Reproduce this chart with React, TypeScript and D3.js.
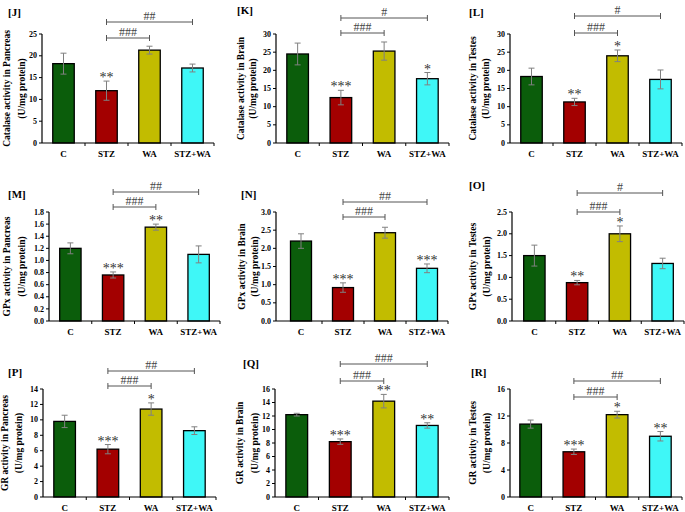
import React from 'react';
import * as d3 from 'd3';

// groups and bar colours
const categories = ['C', 'STZ', 'WA', 'STZ+WA'];
const barColors = ['#0b5d0b', '#a30000', '#c2bc00', '#3ff7f7'];

// panel letters
const panelIds = ['J', 'K', 'L', 'M', 'N', 'O', 'P', 'Q', 'R'];

// y axis titles (two lines each)
const yTitles = [
    'Catalase activity in Pancreas',
    'Catalase activity in Brain',
    'Catalase activity in Testes',
    'GPx activity in Pancreas',
    'GPx activity in Brain',
    'GPx activity in Testes',
    'GR activity in Pancreas',
    'GR activity in Brain',
    'GR activity in Testes',
];
const yUnit = '(U/mg protein)';

// mean values per panel (C, STZ, WA, STZ+WA)
const meanJ = [18.2, 12.0, 21.3, 17.2];
const meanK = [24.5, 12.5, 25.3, 17.7];
const meanL = [18.3, 11.3, 24.0, 17.5];
const meanM = [1.2, 0.76, 1.55, 1.1];
const meanN = [2.2, 0.92, 2.43, 1.45];
const meanO = [1.5, 0.88, 2.0, 1.32];
const meanP = [9.8, 6.2, 11.4, 8.6];
const meanQ = [12.2, 8.2, 14.2, 10.6];
const meanR = [10.8, 6.7, 12.2, 9.0];

// error (SEM) per panel
const errJ = [2.4, 2.2, 0.9, 0.9];
const errK = [3.0, 2.0, 2.5, 1.7];
const errL = [2.3, 1.0, 1.6, 2.6];
const errM = [0.09, 0.05, 0.05, 0.14];
const errN = [0.2, 0.13, 0.15, 0.12];
const errO = [0.24, 0.05, 0.18, 0.12];
const errP = [0.8, 0.6, 0.8, 0.5];
const errQ = [0.2, 0.4, 1.0, 0.4];
const errR = [0.6, 0.4, 0.5, 0.7];

// significance vs control
const starsJ = ['', '**', '', ''];
const starsK = ['', '***', '', '*'];
const starsL = ['', '**', '*', ''];
const starsM = ['', '***', '**', ''];
const starsN = ['', '***', '', '***'];
const starsO = ['', '**', '*', ''];
const starsP = ['', '***', '*', ''];
const starsQ = ['', '***', '**', '**'];
const starsR = ['', '***', '*', '**'];

// significance vs STZ: [STZ-WA, STZ-STZ+WA]
const hashJ = ['###', '##'];
const hashK = ['###', '#'];
const hashL = ['###', '#'];
const hashM = ['###', '##'];
const hashN = ['###', '##'];
const hashO = ['###', '#'];
const hashP = ['###', '##'];
const hashQ = ['###', '###'];
const hashR = ['###', '##'];

// y axis maximum and tick step
const yMax = [25, 30, 30, 1.8, 3.0, 2.5, 14, 16, 16];
const yStep = [5, 5, 5, 0.2, 0.5, 0.5, 2, 2, 4];
const yFormat = ['d', 'd', 'd', '.1f', '.1f', '.1f', 'd', 'd', 'd'];

const means = [meanJ, meanK, meanL, meanM, meanN, meanO, meanP, meanQ, meanR];
const errs = [errJ, errK, errL, errM, errN, errO, errP, errQ, errR];
const stars = [starsJ, starsK, starsL, starsM, starsN, starsO, starsP, starsQ, starsR];
const hashes = [hashJ, hashK, hashL, hashM, hashN, hashO, hashP, hashQ, hashR];

// pixel layout of each panel
interface Layout {
    ax: number; x0: number; x1: number; top: number; bottom: number;
    lx: number; ly: number; t1: number; t2: number; br: [number, number];
}
const layouts: Layout[] = [
    { ax: 42, x0: 42, x1: 214, top: 34, bottom: 143, lx: 8, ly: 16, t1: 7, t2: 22, br: [22, 38] },
    { ax: 276, x0: 276, x1: 449, top: 34, bottom: 143, lx: 237, ly: 14, t1: 241, t2: 253, br: [18, 33] },
    { ax: 510, x0: 510, x1: 682, top: 34, bottom: 143, lx: 469, ly: 16, t1: 473, t2: 486, br: [16, 33] },
    { ax: 49, x0: 49, x1: 220, top: 212, bottom: 321, lx: 8, ly: 198, t1: 7, t2: 22, br: [192, 207] },
    { ax: 276, x0: 280, x1: 448, top: 212, bottom: 321, lx: 241, ly: 198, t1: 242, t2: 255, br: [202, 217] },
    { ax: 512, x0: 513, x1: 684, top: 212, bottom: 321, lx: 469, ly: 189, t1: 473, t2: 487, br: [193, 212] },
    { ax: 43, x0: 43, x1: 216, top: 389, bottom: 497, lx: 8, ly: 376, t1: 5, t2: 19, br: [371, 386] },
    { ax: 275, x0: 275, x1: 449, top: 389, bottom: 497, lx: 243, ly: 367, t1: 240, t2: 255, br: [364, 381] },
    { ax: 510, x0: 509, x1: 682, top: 389, bottom: 497, lx: 471, ly: 376, t1: 473, t2: 487, br: [381, 397] },
];

const FONT = '"Liberation Serif", "Times New Roman", serif';

const Panel: React.FC<{ i: number }> = ({ i }) => {
    const L = layouts[i];
    const x = d3.scaleBand<string>().domain(categories).range([L.x0, L.x1]).paddingInner(0.5).paddingOuter(0.25);
    const y = d3.scaleLinear().domain([0, yMax[i]]).range([L.bottom, L.top]);
    const ticks = d3.range(0, yMax[i] + yStep[i] / 2, yStep[i]);
    const fmt = d3.format(yFormat[i]);
    const step = x.step();
    const bw = x.bandwidth();
    const cx = (c: string) => (x(c) ?? 0) + bw / 2;
    const midY = (L.top + L.bottom) / 2;
    const boundaries = categories.map((c) => (x(c) ?? 0) + bw / 2 + step / 2);

    const bracket = (to: string, yy: number, label: string) => {
        const a = cx('STZ');
        const b = cx(to);
        return (
            <g key={to}>
                <line x1={a} x2={b} y1={yy} y2={yy} stroke="#555" strokeWidth={1} />
                <line x1={a} x2={a} y1={yy - 3} y2={yy + 3} stroke="#555" strokeWidth={1} />
                <line x1={b} x2={b} y1={yy - 3} y2={yy + 3} stroke="#555" strokeWidth={1} />
                <text x={(a + b) / 2} y={yy - 2} textAnchor="middle" fontSize={12} fill="#444">{label}</text>
            </g>
        );
    };

    return (
        <g fontFamily={FONT}>
            <text x={L.lx} y={L.ly} fontSize={11} fontWeight="bold">[{panelIds[i]}]</text>
            <text transform={`translate(${L.t1},${midY}) rotate(-90)`} textAnchor="middle" dominantBaseline="central"
                fontSize={9.5} fontWeight="bold">{yTitles[i]}</text>
            <text transform={`translate(${L.t2},${midY}) rotate(-90)`} textAnchor="middle" dominantBaseline="central"
                fontSize={9.5} fontWeight="bold">{yUnit}</text>

            {/* y axis */}
            <line x1={L.ax} x2={L.ax} y1={L.top} y2={L.bottom} stroke="#000" strokeWidth={1.2} />
            {ticks.map((t) => (
                <g key={t}>
                    <line x1={L.ax - 3} x2={L.ax} y1={y(t)} y2={y(t)} stroke="#000" strokeWidth={1} />
                    <text x={L.ax - 5} y={y(t)} dy="0.33em" textAnchor="end" fontSize={8} fontWeight="bold">{fmt(t)}</text>
                </g>
            ))}

            {/* bars */}
            {categories.map((c, k) => (
                <rect key={c} x={x(c)} y={y(means[i][k])} width={bw} height={L.bottom - y(means[i][k])}
                    fill={barColors[k]} stroke="#000" strokeWidth={1.3} />
            ))}

            {/* x axis */}
            <line x1={L.ax} x2={L.x1} y1={L.bottom} y2={L.bottom} stroke="#000" strokeWidth={1.2} />
            {boundaries.map((bx, k) => (
                <line key={k} x1={bx} x2={bx} y1={L.bottom} y2={L.bottom + 3} stroke="#000" strokeWidth={1} />
            ))}
            {categories.map((c) => (
                <text key={c} x={cx(c)} y={L.bottom + 14} textAnchor="middle" fontSize={9} fontWeight="bold">{c}</text>
            ))}

            {/* error bars */}
            {categories.map((c, k) => {
                const m = means[i][k];
                const e = errs[i][k];
                const xc = cx(c);
                return (
                    <g key={c} stroke="#808080" strokeWidth={1}>
                        <line x1={xc} x2={xc} y1={y(m - e)} y2={y(m + e)} />
                        <line x1={xc - 3} x2={xc + 3} y1={y(m - e)} y2={y(m - e)} />
                        <line x1={xc - 3} x2={xc + 3} y1={y(m + e)} y2={y(m + e)} />
                    </g>
                );
            })}

            {/* stars */}
            {categories.map((c, k) => stars[i][k] ? (
                <text key={c} x={cx(c)} y={y(means[i][k] + errs[i][k]) + 1} textAnchor="middle" fontSize={14} fill="#333">
                    {stars[i][k]}
                </text>
            ) : null)}

            {bracket('STZ+WA', L.br[0], hashes[i][1])}
            {bracket('WA', L.br[1], hashes[i][0])}
        </g>
    );
};

const App: React.FC = () => (
    <div style={{ position: 'absolute', left: 0, top: 0 }}>
        <svg width={685} height={512} style={{ display: 'block', background: '#fff' }}>
            {panelIds.map((id, i) => <Panel key={id} i={i} />)}
        </svg>
    </div>
);

export default App;
